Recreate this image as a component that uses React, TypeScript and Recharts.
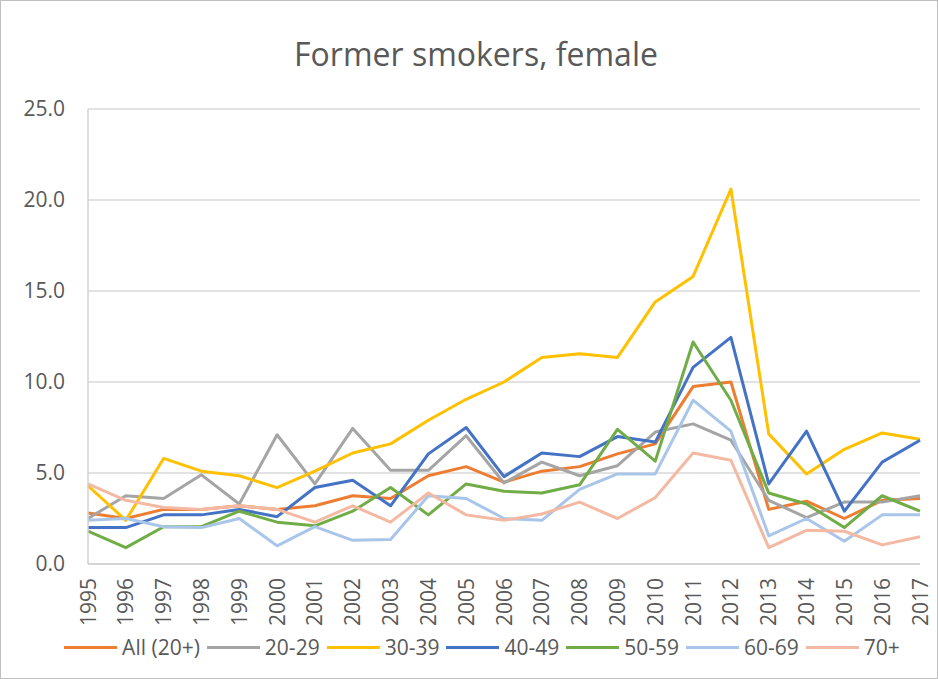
import React from 'react';
import { LineChart, Line, XAxis, YAxis, CartesianGrid } from 'recharts';

const years = ['1995','1996','1997','1998','1999','2000','2001','2002','2003','2004','2005','2006','2007','2008','2009','2010','2011','2012','2013','2014','2015','2016','2017'];
const yTicks = [0, 5, 10, 15, 20, 25];

const allAges = [2.8,2.5,3.0,3.0,3.2,3.0,3.2,3.75,3.6,4.85,5.35,4.5,5.1,5.35,6.05,6.6,9.75,10.0,3.0,3.45,2.5,3.5,3.6];
const age2029 = [2.5,3.75,3.6,4.9,3.3,7.1,4.4,7.45,5.15,5.15,7.05,4.45,5.6,4.85,5.4,7.25,7.7,6.8,3.5,2.55,3.4,3.4,3.75];
const age3039 = [4.3,2.4,5.8,5.1,4.85,4.2,5.1,6.1,6.6,7.9,9.05,10.0,11.35,11.55,11.35,14.4,15.8,20.6,7.15,4.95,6.3,7.2,6.85];
const age4049 = [2.0,2.0,2.7,2.7,3.0,2.6,4.2,4.6,3.2,6.05,7.5,4.8,6.1,5.9,7.0,6.7,10.8,12.45,4.4,7.3,2.9,5.6,6.8];
const age5059 = [1.8,0.9,2.05,2.05,2.9,2.3,2.1,2.9,4.2,2.7,4.4,4.0,3.9,4.35,7.4,5.65,12.2,9.0,3.9,3.3,2.0,3.75,2.9];
const age6069 = [2.4,2.5,2.05,2.0,2.5,1.0,2.05,1.3,1.35,3.75,3.6,2.5,2.4,4.1,4.95,4.95,9.0,7.3,1.55,2.5,1.25,2.7,2.7];
const age70 = [4.4,3.5,3.1,3.0,3.2,3.0,2.3,3.2,2.3,3.9,2.7,2.4,2.75,3.4,2.5,3.65,6.1,5.7,0.9,1.85,1.8,1.05,1.5];

const series = [
  { key: 'all', name: 'All (20+)', values: allAges, color: '#ED7D31' },
  { key: 'a2029', name: '20-29', values: age2029, color: '#A5A5A5' },
  { key: 'a3039', name: '30-39', values: age3039, color: '#FFC000' },
  { key: 'a4049', name: '40-49', values: age4049, color: '#4472C4' },
  { key: 'a5059', name: '50-59', values: age5059, color: '#70AD47' },
  { key: 'a6069', name: '60-69', values: age6069, color: '#A9C5EA' },
  { key: 'a70', name: '70+', values: age70, color: '#F4B9A2' },
];

const data = years.map((y, i) => {
  const row: Record<string, string | number> = { year: y };
  series.forEach(s => { row[s.key] = s.values[i]; });
  return row;
});

const FONT = '"Open Sans", sans-serif';
const TEXT = '#595959';

const XTick = (props: any) => {
  const { x, y, payload } = props;
  return (
    <g transform={`translate(${x},${y})`}>
      <text transform="rotate(-90)" textAnchor="end" dy="0.36em" fontSize={21} fill={TEXT} fontFamily={FONT}>
        {payload.value}
      </text>
    </g>
  );
};

export default function App() {
  return (
    <div style={{ position: 'absolute', left: 0, top: 0, width: 938, height: 679, background: '#fff' }}>
      <LineChart width={938} height={679} data={data} margin={{ top: 109, right: 18, bottom: 55, left: 0 }}>
        <CartesianGrid vertical={false} stroke="#d9d9d9" strokeWidth={1.5} />
        <XAxis
          dataKey="year"
          interval={0}
          height={60}
          tickLine={false}
          axisLine={{ stroke: '#d0d0d0', strokeWidth: 1.5 }}
          tick={<XTick />}
          tickMargin={8}
        />
        <YAxis
          width={88}
          domain={[0, 25]}
          ticks={yTicks}
          tickFormatter={(v: number) => v.toFixed(1)}
          tickLine={false}
          axisLine={{ stroke: '#d0d0d0', strokeWidth: 1.5 }}
          tickMargin={17}
          tick={{ fontSize: 21, fill: TEXT, fontFamily: FONT }}
        />
        {series.map(s => (
          <Line
            key={s.key}
            type="linear"
            dataKey={s.key}
            name={s.name}
            stroke={s.color}
            strokeWidth={3}
            dot={false}
            activeDot={false}
            isAnimationActive={false}
            strokeLinejoin="round"
          />
        ))}
      </LineChart>
      <div style={{ position: 'absolute', left: 0, top: 37.6, width: 952, textAlign: 'center', fontFamily: FONT, fontSize: 32, lineHeight: '32px', color: TEXT }}>
        Former smokers, female
      </div>
      <div style={{ position: 'absolute', left: 0, top: 637.4, width: 964, display: 'flex', justifyContent: 'center', alignItems: 'center', fontFamily: FONT, fontSize: 21, lineHeight: '21px', color: TEXT }}>
        {series.map((s, i) => (
          <div key={s.key} style={{ display: 'flex', alignItems: 'center', marginRight: i < series.length - 1 ? 7 : 0 }}>
            <div style={{ width: 53, height: 3, background: s.color, marginRight: 5 }} />
            <span style={{ whiteSpace: 'nowrap' }}>{s.name}</span>
          </div>
        ))}
      </div>
      <div style={{ position: 'absolute', left: 0, top: 0, width: 938, height: 679, boxSizing: 'border-box', border: '1px solid #bfbfbf', pointerEvents: 'none' }} />
    </div>
  );
}
